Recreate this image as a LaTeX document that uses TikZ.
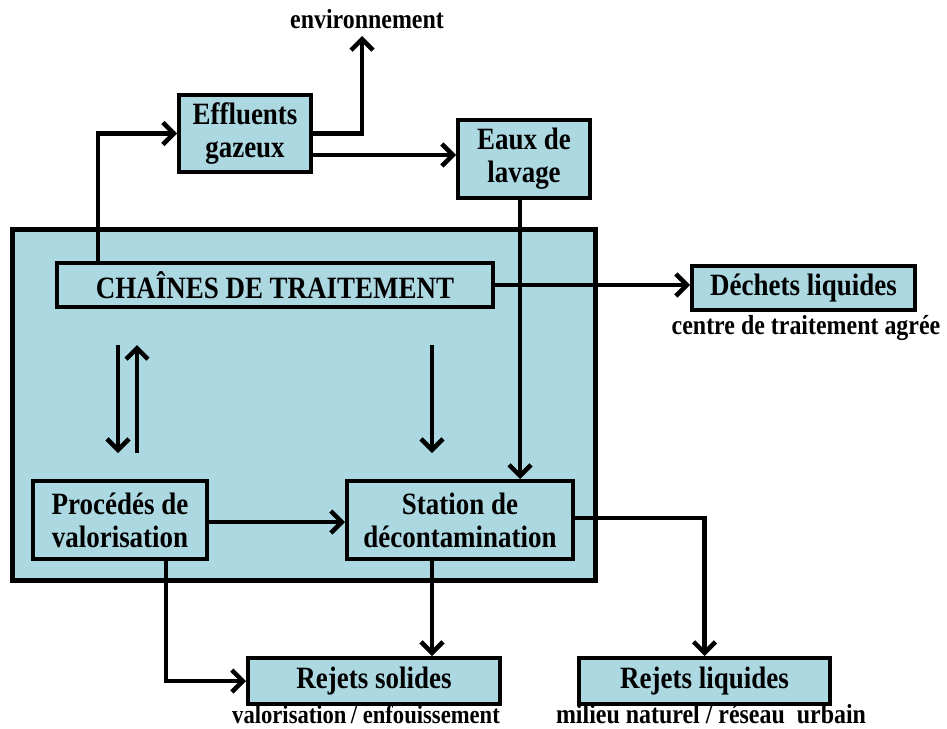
\documentclass[tikz,border=0pt]{standalone}
\usepackage{fontspec}
\setmainfont{Liberation Serif}[FakeStretch=0.87]
\usetikzlibrary{arrows.meta}
\definecolor{boxblue}{RGB}{172,216,226}
\begin{document}
\begin{tikzpicture}[x=1pt,y=-1pt,
  box/.style={draw=black,line width=4pt,fill=boxblue,align=center,inner sep=0pt,
     font=\fontsize{31}{33}\selectfont\bfseries},
  lbl/.style={inner sep=0pt,font=\fontsize{27.5}{30}\selectfont\bfseries},
  arr/.style={line width=4.5pt,-{Straight Barb[length=11pt,width=22pt,line width=4.5pt]}}]
\useasboundingbox (0,0) rectangle (947,728);
% outer frame
\node[draw=black,line width=5pt,fill=boxblue,minimum width=583pt,minimum height=351pt,inner sep=0pt] (frame) at (303.5,404.5) {};
% boxes
\node[box,minimum width=436pt,minimum height=44pt] (chaines) at (275,285) {CHAÎNES DE TRAITEMENT};
\node[box,minimum width=132pt,minimum height=77pt] (eff) at (245,133.5) {Effluents\\gazeux};
\node[box,minimum width=132pt,minimum height=78pt] (eaux) at (524,159) {Eaux de\\lavage};
\node[box,minimum width=223pt,minimum height=44pt] (dechets) at (803.5,288) {Déchets liquides};
\node[box,minimum width=174pt,minimum height=78pt] (proc) at (120,520) {Procédés de\\valorisation};
\node[box,minimum width=226pt,minimum height=78pt] (station) at (460,520) {Station de\\décontamination};
\node[box,minimum width=252pt,minimum height=46pt] (rsol) at (374,681) {Rejets solides};
\node[box,minimum width=251pt,minimum height=46pt] (rliq) at (704.5,681) {Rejets liquides};
% labels
\node[lbl] (env) at (367,19) {environnement};
\node[lbl] (centre) at (806,328) {centre de traitement agrée};
\node[lbl,anchor=base,font=\fontsize{26}{30}\selectfont\bfseries] (valo) at (366,723) {valorisation\,/ enfouissement};
\node[lbl,anchor=base] (milieu) at (711,723) {milieu naturel / réseau\ \ urbain};
% free coordinates
\coordinate (envtip) at (362,36);
\coordinate (d1a) at (118,345); \coordinate (d1b) at (118,453);
\coordinate (u1a) at (137,453); \coordinate (u1b) at (137,345);
\coordinate (d2a) at (432,345); \coordinate (d2b) at (432,453);
% connectors
\draw[arr] ([xshift=43pt]chaines.north west) |- (eff.west);
\draw[arr] (eff.east) -| (envtip);
\draw[arr] ([yshift=-21.5pt]eff.east) -- ([yshift=-21.5pt]eff.east -| eaux.west);
\draw[arr] ([xshift=-4pt]eaux.south) -- ([xshift=-4pt]eaux.south |- station.north);
\draw[arr] (chaines.east) -- (chaines.east -| dechets.west);
\draw[arr] (d1a) -- (d1b);
\draw[arr] (u1a) -- (u1b);
\draw[arr] (d2a) -- (d2b);
\draw[arr] ([yshift=-2pt]proc.east) -- ([yshift=-2pt]proc.east -| station.west);
\draw[arr] ([xshift=46pt]proc.south) |- (rsol.west);
\draw[arr] ([xshift=-28pt]station.south) -- ([xshift=-28pt]station.south |- rsol.north);
\draw[arr] ([yshift=2pt]station.east) -| (rliq.north);
\end{tikzpicture}
\end{document}
